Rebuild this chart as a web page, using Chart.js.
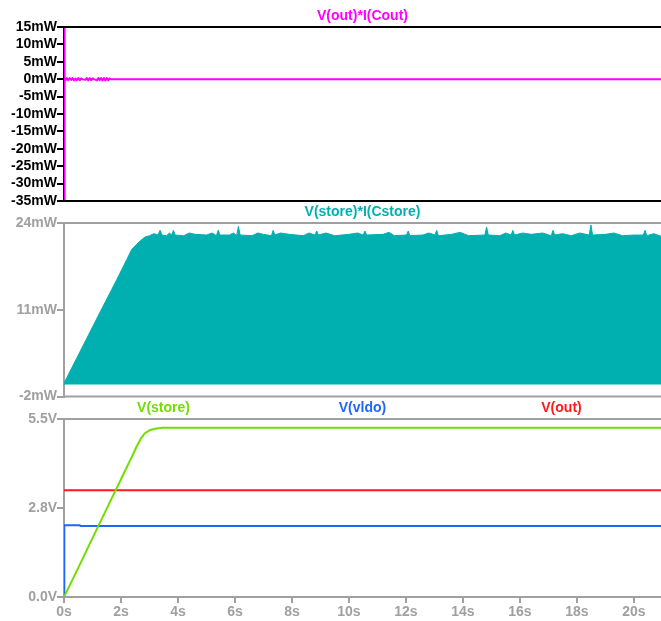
<!DOCTYPE html>
<html>
<head>
<meta charset="utf-8">
<script src="https://cdn.jsdelivr.net/npm/chart.js@4.4.1/dist/chart.umd.min.js"></script>
<style>
  html, body { margin: 0; padding: 0; background: #fff; }
  #wrap { position: relative; width: 661px; height: 621px; overflow: hidden; }
  canvas { position: absolute; left: 0; }
</style>
</head>
<body>
<div id="wrap">
  <canvas id="pane1" width="661" height="212" style="top:0px"></canvas>
  <canvas id="pane2" width="661" height="200" style="top:205px"></canvas>
  <canvas id="pane3" width="661" height="221" style="top:400px"></canvas>
</div>
<script>
// time axis (seconds)
const xMin = 0;
const xMax = 20.95;
const xTicks = [0, 2, 4, 6, 8, 10, 12, 14, 16, 18, 20];

// pane 1: V(out)*I(Cout) in mW, [t, value]
const coutTicks = [-35, -30, -25, -20, -15, -10, -5, 0, 5, 10, 15];
const coutPower = [
  [0, 0], [0.01, 15], [0.02, -35], [0.03, 0.3], [0.05, -0.3], [0.1, 0.3], [0.15, -0.3],
  [0.2, 0.35], [0.25, -0.2], [0.3, 0.3], [0.35, -0.35], [0.4, 0.2], [0.45, -0.3], [0.5, 0.35],
  [0.55, -0.3], [0.6, 0.2], [0.65, 0], [0.75, -0.2], [0.8, 0.35], [0.85, -0.35], [0.9, 0.3],
  [0.95, -0.3], [1.0, 0.2], [1.05, 0], [1.15, -0.35], [1.2, 0.35], [1.25, -0.3], [1.3, 0.35],
  [1.35, -0.35], [1.4, 0.3], [1.45, -0.35], [1.5, 0.35], [1.55, -0.3], [1.6, 0.2], [1.65, 0],
  [1.7, 0], [20.95, 0]
];

// pane 2: V(store)*I(Cstore) in mW, upper envelope of the fast ripple
const storeTicks = [-2, 11, 24];
const storeFloor = -0.2;
const storePower = [
  [0, 0], [1.26, 10.6], [1.85, 15.5], [2.2, 18.5], [2.37, 20.0], [2.55, 20.8], [2.7, 21.4],
  [2.84, 21.9], [3.0, 22.1], [3.15, 22.4], [3.3, 22.2], [3.37, 22.9], [3.44, 22.2], [3.6, 22.1],
  [3.7, 22.5], [3.78, 22.2], [3.84, 22.9], [3.9, 22.2], [4.2, 22.1], [4.4, 22.5], [4.6, 22.3],
  [5.0, 22.2], [5.2, 22.5], [5.35, 22.1], [5.41, 22.9], [5.47, 22.2], [5.8, 22.2], [5.95, 22.5],
  [6.06, 22.1], [6.12, 23.5], [6.18, 22.2], [6.6, 22.1], [6.8, 22.5], [7.0, 22.3], [7.28, 22.1],
  [7.34, 22.9], [7.4, 22.2], [7.6, 22.5], [7.9, 22.3], [8.4, 22.1], [8.6, 22.5], [8.81, 22.2],
  [8.87, 22.8], [8.93, 22.2], [9.2, 22.5], [9.5, 22.1], [10.0, 22.3], [10.3, 22.5], [10.5, 22.2],
  [10.56, 22.8], [10.62, 22.2], [11.2, 22.3], [11.4, 22.6], [11.6, 22.1], [12.02, 22.2], [12.08, 22.8],
  [12.14, 22.1], [12.6, 22.2], [12.8, 22.5], [13.02, 22.2], [13.08, 22.9], [13.14, 22.1], [13.6, 22.3],
  [13.9, 22.6], [14.2, 22.1], [14.77, 22.2], [14.83, 23.4], [14.89, 22.2], [15.3, 22.1], [15.5, 22.5],
  [15.69, 22.2], [15.75, 22.9], [15.81, 22.2], [16.1, 22.5], [16.4, 22.3], [16.8, 22.5], [17.1, 22.1],
  [17.16, 22.9], [17.22, 22.2], [17.5, 22.4], [17.8, 22.1], [18.1, 22.5], [18.43, 22.2], [18.49, 23.7],
  [18.55, 22.2], [19.0, 22.3], [19.3, 22.5], [19.6, 22.1], [20.0, 22.2], [20.33, 22.2], [20.39, 22.9],
  [20.45, 22.1], [20.7, 22.4], [20.95, 22.0]
];

// pane 3: voltages in V
const voltTicks = [0, 2.75, 5.5];
const vStore = [
  [0, 0], [0.5, 0.9], [1.0, 1.82], [1.5, 2.73], [2.0, 3.64], [2.4, 4.37], [2.55, 4.65],
  [2.7, 4.9], [2.84, 5.06], [3.0, 5.15], [3.2, 5.2], [3.45, 5.23], [20.95, 5.23]
];
const vLdo = [[0, 0], [0.01, 2.22], [0.55, 2.22], [0.58, 2.19], [20.95, 2.19]];
const vOut = [[0, 3.3], [20.95, 3.3]];

const FONT = { family: '"Liberation Sans", Arial, sans-serif', size: 14, weight: 'bold' };
const GRAY = '#a0a0a0';

const toXY = arr => arr.map(p => ({ x: p[0], y: p[1] }));
const fixTicks = list => scale => { scale.ticks = list.map(v => ({ value: v })); };

// draws the top/bottom frame lines and the coloured trace names above each pane
const paneDecor = {
  id: 'paneDecor',
  afterDraw(chart, args, opts) {
    const { ctx, chartArea: a } = chart;
    ctx.save();
    ctx.strokeStyle = opts.frameColor;
    ctx.lineWidth = 2;
    ctx.beginPath();
    ctx.moveTo(a.left, a.top); ctx.lineTo(a.right, a.top);
    ctx.moveTo(a.left, a.bottom); ctx.lineTo(a.right, a.bottom);
    ctx.stroke();
    ctx.font = 'bold 14px "Liberation Sans", Arial, sans-serif';
    ctx.textAlign = 'center';
    ctx.textBaseline = 'middle';
    opts.labels.forEach(l => {
      ctx.fillStyle = l.color;
      ctx.fillText(l.text, a.left + (a.right - a.left) * l.frac, a.top - 11);
    });
    ctx.restore();
  }
};

function yAxis(min, max, ticks, unit, color, fmt) {
  return {
    min, max,
    afterBuildTicks: fixTicks(ticks),
    afterFit: s => { s.width = 64; },
    border: { color, width: 2 },
    grid: { drawOnChartArea: false, tickLength: 7, color, lineWidth: 2 },
    ticks: { color, font: FONT, padding: 0, autoSkip: false, callback: v => fmt(v) + unit }
  };
}

function xAxis(show) {
  return {
    type: 'linear', min: xMin, max: xMax,
    display: show,
    afterBuildTicks: fixTicks(xTicks),
    afterFit: s => { if (show) s.height = 24; },
    border: { display: false },
    grid: { drawOnChartArea: false, tickLength: 6, color: GRAY, lineWidth: 2 },
    ticks: { color: GRAY, font: FONT, padding: 1, autoSkip: false, maxRotation: 0, callback: v => v + 's' }
  };
}

const base = {
  responsive: false,
  animation: false,
  elements: { point: { radius: 0 }, line: { tension: 0, borderJoinStyle: 'round' } },
  events: []
};

new Chart(document.getElementById('pane1'), {
  type: 'line',
  data: {
    datasets: [{ data: toXY(coutPower), borderColor: '#ff00ff', borderWidth: 2 }]
  },
  options: {
    ...base,
    layout: { padding: { top: 27, bottom: 11, left: 0, right: 0 } },
    scales: {
      x: xAxis(false),
      y: yAxis(-35, 15, coutTicks, 'mW', '#000', v => v)
    },
    plugins: {
      legend: { display: false }, tooltip: { enabled: false },
      paneDecor: { frameColor: '#000',
        labels: [{ text: 'V(out)*I(Cout)', color: '#ff00ff', frac: 0.5 }] }
    }
  },
  plugins: [paneDecor]
});

new Chart(document.getElementById('pane2'), {
  type: 'line',
  data: {
    datasets: [{
      data: toXY(storePower), borderColor: '#00b0b0', borderWidth: 1,
      backgroundColor: '#00b0b0', fill: { value: storeFloor }
    }]
  },
  options: {
    ...base,
    layout: { padding: { top: 18, bottom: 8, left: 0, right: 0 } },
    scales: {
      x: xAxis(false),
      y: yAxis(-2, 24, storeTicks, 'mW', GRAY, v => v)
    },
    plugins: {
      legend: { display: false }, tooltip: { enabled: false },
      paneDecor: { frameColor: GRAY,
        labels: [{ text: 'V(store)*I(Cstore)', color: '#00b0b0', frac: 0.5 }] }
    }
  },
  plugins: [paneDecor]
});

new Chart(document.getElementById('pane3'), {
  type: 'line',
  data: {
    datasets: [
      { label: 'V(store)', data: toXY(vStore), borderColor: '#72dd00', borderWidth: 2 },
      { label: 'V(vldo)', data: toXY(vLdo), borderColor: '#1f66ff', borderWidth: 2 },
      { label: 'V(out)', data: toXY(vOut), borderColor: '#ff1a1a', borderWidth: 2 }
    ]
  },
  options: {
    ...base,
    layout: { padding: { top: 19, bottom: 0, left: 0, right: 0 } },
    scales: {
      x: xAxis(true),
      y: yAxis(0, 5.5, voltTicks, 'V', GRAY, v => v.toFixed(1))
    },
    plugins: {
      legend: { display: false }, tooltip: { enabled: false },
      paneDecor: { frameColor: GRAY,
        labels: [
          { text: 'V(store)', color: '#72dd00', frac: 1 / 6 },
          { text: 'V(vldo)', color: '#1f66ff', frac: 0.5 },
          { text: 'V(out)', color: '#ff1a1a', frac: 5 / 6 }
        ] }
    }
  },
  plugins: [paneDecor]
});
</script>
</body>
</html>
